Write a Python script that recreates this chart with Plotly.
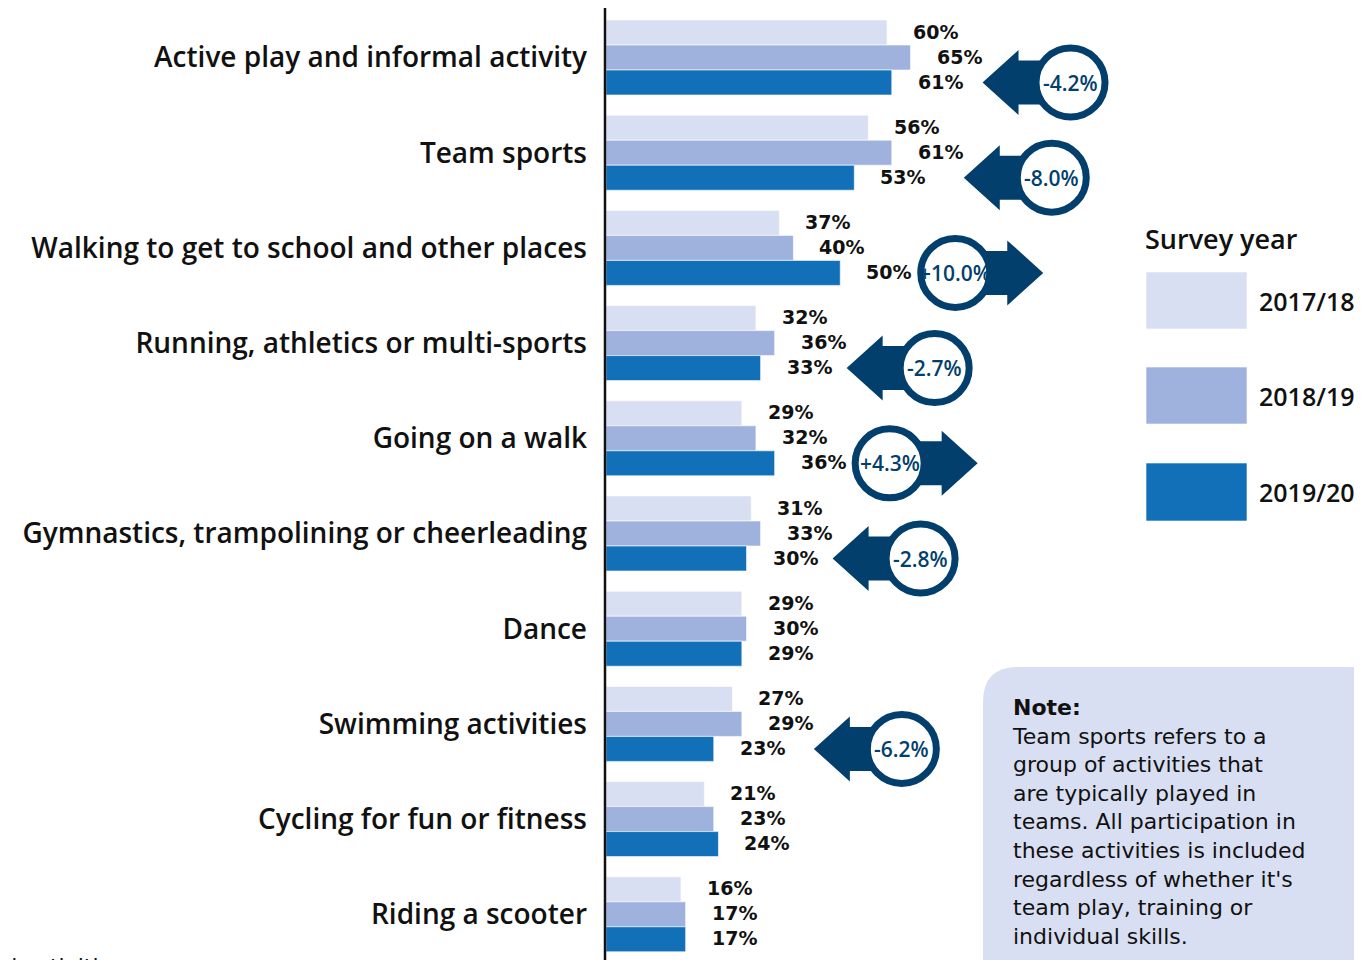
"""Participation in activities by survey year: grouped horizontal bars with change arrows."""
import plotly.graph_objects as go

CATEGORIES = [
    "Active play and informal activity",
    "Team sports",
    "Walking to get to school and other places",
    "Running, athletics or multi-sports",
    "Going on a walk",
    "Gymnastics, trampolining or cheerleading",
    "Dance",
    "Swimming activities",
    "Cycling for fun or fitness",
    "Riding a scooter",
]
YEARS = ["2017/18", "2018/19", "2019/20"]
Y2017 = [60, 56, 37, 32, 29, 31, 29, 27, 21, 16]
Y2018 = [65, 61, 40, 36, 32, 33, 30, 29, 23, 17]
Y2019 = [61, 53, 50, 33, 36, 30, 29, 23, 24, 17]
CHANGE = [-4.2, -8.0, 10.0, -2.7, 4.3, -2.8, None, -6.2, None, None]
LEGEND_TITLE = "Survey year"
NOTE_TITLE = "Note:"
NOTE_LINES = [
    "Team sports refers to a",
    "group of activities that",
    "are typically played in",
    "teams. All participation in",
    "these activities is included",
    "regardless of whether it's",
    "team play, training or",
    "individual skills.",
]
CUT_TEXT = "Informal activities are"

LIGHT, MID, DARK, NAVY = "#d9dff2", "#9fb2de", "#1170b8", "#033f6c"
COLORS = [LIGHT, MID, DARK]
FONT = "Open Sans"
NOTE_FONT = "DejaVu Sans"

W, H = 1372, 960
AXIS_PX = 606          # pixel x of the value axis
PX_PER_PCT = 4.685
GROUP0_PX, GROUP_STEP, BAR_PX = 57.5, 95.2, 25


def px(x):
    return (x - AXIS_PX) / (W - AXIS_PX)


def py(y):
    return 1 - y / H


fig = go.Figure()
for name, vals, col in zip(YEARS, [Y2017, Y2018, Y2019], COLORS):
    fig.add_bar(y=list(range(len(CATEGORIES))), x=vals, orientation="h", name=name,
                marker=dict(color=col, line=dict(width=1, color="rgba(255,255,255,0.6)")),
                showlegend=False, hoverinfo="x+name")

# value labels, staggered next to each bar
for k, vals in enumerate([Y2017, Y2018, Y2019]):
    for i, v in enumerate(vals):
        fig.add_annotation(x=v, y=i, xref="x", yref="y", text=f"{v}%", showarrow=False,
                           xanchor="left", yanchor="middle", xshift=24, yshift=(1 - k) * BAR_PX + 1,
                           font=dict(family=NOTE_FONT, size=19, color="#111", weight=700))

# change arrows with circled figures, level with the 2019/20 bar
for i, ch in enumerate(CHANGE):
    if ch is None:
        continue
    top = max(Y2017[i], Y2018[i], Y2019[i])
    up = ch > 0
    off = 115 if up else 160
    s = 1 if up else -1
    dy = -BAR_PX
    pts = [(88, 0), (52, 32.5), (52, 22), (15, 22), (15, -22), (52, -22), (52, -32.5)]
    path = "M " + " L ".join(f"{off + s * a},{b + dy}" for a, b in pts) + " Z"
    fig.add_shape(type="path", xref="x", yref="y", xsizemode="pixel", ysizemode="pixel",
                  xanchor=top, yanchor=i, path=path, fillcolor=NAVY, line_width=0)
    fig.add_shape(type="circle", xref="x", yref="y", xsizemode="pixel", ysizemode="pixel",
                  xanchor=top, yanchor=i, x0=off - 34.5, x1=off + 34.5, y0=dy - 34.5, y1=dy + 34.5,
                  fillcolor="white", line=dict(color=NAVY, width=7))
    fig.add_annotation(x=top, y=i, xref="x", yref="y", text=f"{ch:+.1f}%", showarrow=False,
                       xshift=off, yshift=dy, yanchor="middle",
                       font=dict(family=FONT, size=21, color=NAVY, weight=600))

# axis line
fig.add_shape(type="line", xref="paper", yref="paper", x0=px(605), x1=px(605), y0=py(8), y1=py(H + 5),
              line=dict(color="#111", width=2.5))

# legend drawn by hand
fig.add_annotation(xref="paper", yref="paper", x=px(1143), y=py(238), text=LEGEND_TITLE,
                   showarrow=False, xanchor="left", yanchor="middle",
                   font=dict(family=FONT, size=27, color="#111", weight=600))
for name, col, (y0, y1) in zip(YEARS, COLORS, [(272, 329), (367, 424), (463, 521)]):
    fig.add_shape(type="rect", xref="paper", yref="paper", x0=px(1146), x1=px(1247),
                  y0=py(y1), y1=py(y0), fillcolor=col, line=dict(color="rgba(255,255,255,0.6)", width=1))
    fig.add_annotation(xref="paper", yref="paper", x=px(1307), y=py((y0 + y1) / 2), text=name,
                       showarrow=False, xanchor="center", yanchor="middle",
                       font=dict(family=FONT, size=25, color="#111", weight=600))

# note box with a rounded top-left corner
fig.add_shape(type="path", xref="paper", yref="paper", xsizemode="pixel", ysizemode="pixel",
              xanchor=0, yanchor=1,
              path="M 377,-975 L 377,-702 Q 377,-667 412,-667 L 748,-667 L 748,-975 Z",
              fillcolor=LIGHT, line_width=0, layer="below")
fig.add_annotation(xref="paper", yref="paper", x=px(1010), y=py(693), xanchor="left", yanchor="top",
                   align="left", showarrow=False,
                   text=f"<b>{NOTE_TITLE}</b><br>" + "<br>".join(NOTE_LINES),
                   font=dict(family=NOTE_FONT, size=22, color="#111"))

# text running off the bottom-left edge
fig.add_annotation(xref="paper", yref="paper", x=px(168), y=py(966), xanchor="right", yanchor="middle",
                   showarrow=False, text=CUT_TEXT, font=dict(family=NOTE_FONT, size=22, color="#111"))

top_y = -GROUP0_PX / GROUP_STEP
bot_y = (H - GROUP0_PX) / GROUP_STEP
fig.update_layout(
    width=W, height=H, margin=dict(l=AXIS_PX, r=0, t=0, b=0),
    plot_bgcolor="white", paper_bgcolor="white",
    barmode="group", bargap=1 - 3 * BAR_PX / GROUP_STEP, bargroupgap=0,
    xaxis=dict(range=[0, (W - AXIS_PX) / PX_PER_PCT], visible=False, fixedrange=True),
    yaxis=dict(range=[bot_y, top_y], tickvals=list(range(len(CATEGORIES))), ticktext=CATEGORIES,
               showgrid=False, zeroline=False, showline=False, ticks="", ticklabelstandoff=18,
               tickfont=dict(family=FONT, size=28, color="#111", weight=600), fixedrange=True),
)

# page margin off so the figure sits flush with the window
fig.write_html("out.html", config={"displayModeBar": False},
               post_script="document.body.style.margin='0';document.body.style.overflow='hidden';")
